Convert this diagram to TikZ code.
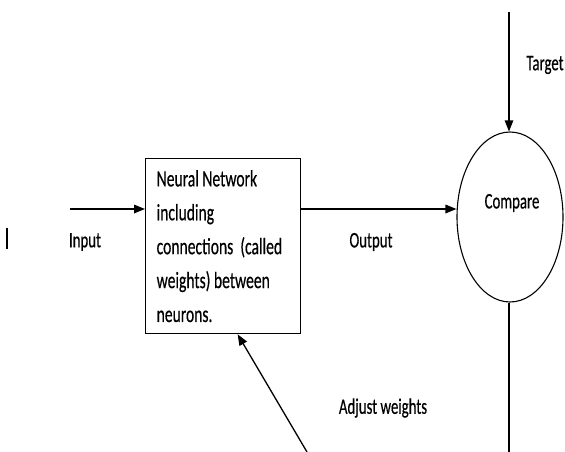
\documentclass[tikz,border=0pt]{standalone}
\usepackage{fontspec}
\setmainfont{Carlito}[FakeBold=0.5]
\usetikzlibrary{arrows.meta,shapes.geometric}
\newcommand{\vstretch}[1]{\scalebox{1}[1.5]{#1}}
\begin{document}
\begin{tikzpicture}[x=1pt,y=-1pt,
  lbl/.style={font=\fontsize{14.8}{17}\selectfont, inner sep=0pt},
  arr/.style={-{Triangle[length=11pt,width=8.5pt]}},
  thick line/.style={line width=1.7pt},
  thin line/.style={line width=1.1pt}]
\useasboundingbox[fill=white] (0,0) rectangle (565,452);
% box
\node[draw, line width=1.3pt, minimum width=155pt, minimum height=175pt, inner sep=0pt, anchor=north west] (box) at (145,158)
  {\raisebox{-3pt}{\vstretch{\parbox{133pt}{\raggedright\fontsize{15.6}{22.6}\selectfont Neural Network\\ including\\ connections~~(called\\ weights) between\\ neurons.}}}};
% compare ellipse
\node[draw, thin line, ellipse, minimum width=106pt, minimum height=170pt, inner sep=0pt] (cmp) at (510,217) {};
\node[lbl] (cmptext) at (512,203) {\vstretch{Compare}};
% coordinates
\coordinate (inL) at (70,209);
\coordinate (outS) at (300,209);
\coordinate (tgt) at (509,12);
\coordinate (bot) at (509,452);
\coordinate (fb) at (307,452);
% connectors
\draw[arr, thick line] (inL) -- (inL -| box.west);
\draw[arr, thick line] (outS) -- (outS -| cmp.west);
\draw[arr, thin line] (tgt) -- (tgt |- cmp.north);
\draw[thin line] (bot |- cmp.south) -- (bot);
\draw[arr, line width=1.3pt] (fb) -- ([xshift=14.5pt]box.south);
% stray bar
\draw[line width=2pt] (7,228) -- (7,249);
% labels
\node[lbl] (input) at (85,242) {\vstretch{Input}};
\node[lbl] (output) at (371,242) {\vstretch{Output}};
\node[lbl] (target) at (545,65) {\vstretch{Target}};
\node[lbl] (adjust) at (383,408) {\vstretch{Adjust weights}};
\end{tikzpicture}
\end{document}
